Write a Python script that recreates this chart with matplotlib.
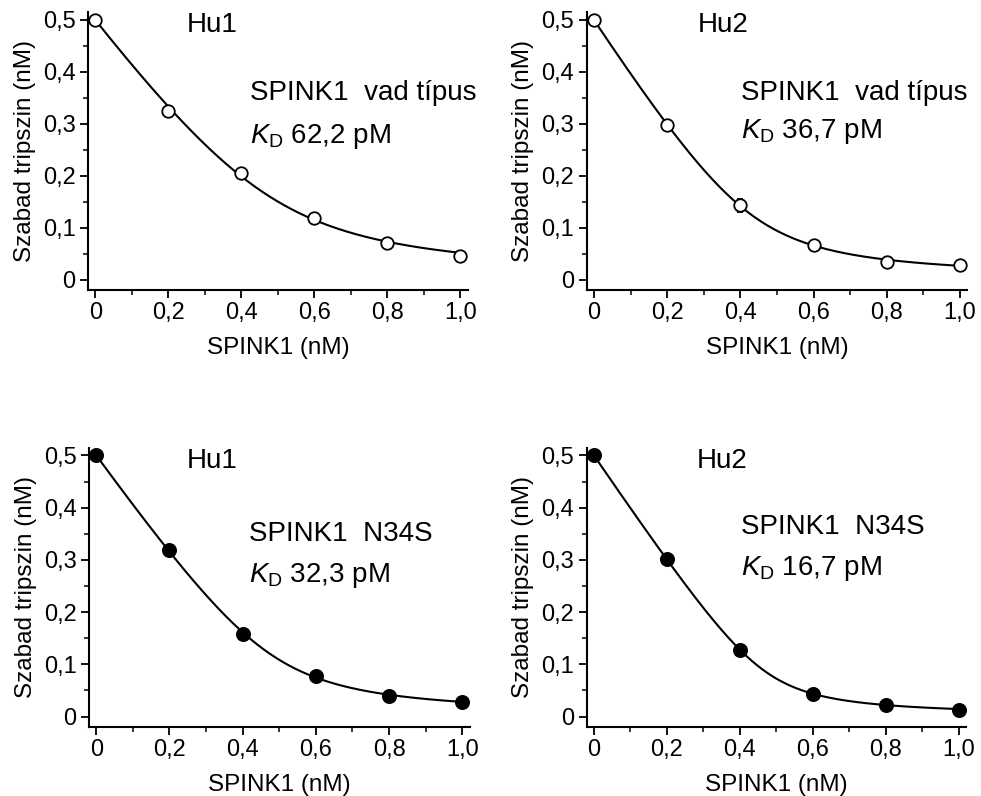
import numpy as np
import matplotlib
matplotlib.use("Agg")
import matplotlib.pyplot as plt
from matplotlib.ticker import MultipleLocator

plt.rcParams['font.family'] = ['Liberation Sans', 'DejaVu Sans']
plt.rcParams['mathtext.fontset'] = 'custom'
plt.rcParams['mathtext.rm'] = 'Liberation Sans'
plt.rcParams['mathtext.it'] = 'Liberation Sans:italic'

# data
spink1 = [0.0, 0.2, 0.4, 0.6, 0.8, 1.0]
hu1_wt = [0.500, 0.324, 0.205, 0.119, 0.071, 0.046]
hu1_wt_err = [0, 0, 0, 0, 0, 0]
hu2_wt = [0.500, 0.298, 0.143, 0.066, 0.034, 0.028]
hu2_wt_err = [0, 0.006, 0.012, 0, 0, 0]
hu1_n34s = [0.500, 0.318, 0.158, 0.078, 0.040, 0.028]
hu1_n34s_err = [0, 0.010, 0, 0, 0, 0]
hu2_n34s = [0.500, 0.302, 0.127, 0.043, 0.023, 0.013]
hu2_n34s_err = [0, 0, 0, 0, 0, 0]

kd_values = [0.0622, 0.0367, 0.0323, 0.0167]   # nM
kd_texts = ["62,2", "36,7", "32,3", "16,7"]
enzymes = ["Hu1", "Hu2", "Hu1", "Hu2"]
variants = ["SPINK1  vad típus", "SPINK1  vad típus", "SPINK1  N34S", "SPINK1  N34S"]

xticks = [0, 0.2, 0.4, 0.6, 0.8, 1.0]
xticklabels = ["0", "0,2", "0,4", "0,6", "0,8", "1,0"]
yticks = [0, 0.1, 0.2, 0.3, 0.4, 0.5]
yticklabels = ["0", "0,1", "0,2", "0,3", "0,4", "0,5"]


def morrison(i, e0, kd, a):
    s = e0 + a * i + kd
    return e0 - (s - np.sqrt(s * s - 4 * e0 * a * i)) / 2


def fit_curve(x, y, kd):
    # Morrison fit with fixed KD, active-inhibitor factor fitted
    x = np.array(x)
    y = np.array(y)
    best = None
    for a in np.linspace(0.8, 1.2, 401):
        err = np.sum((morrison(x, y[0], kd, a) - y) ** 2)
        if best is None or err < best[0]:
            best = (err, a)
    xs = np.linspace(0, 1, 300)
    return xs, morrison(xs, y[0], kd, best[1])


def main():
    fig = plt.figure(figsize=(9.81, 7.96), dpi=100)

    boxes = [
        [0.0897, 0.6357, 0.387, 0.349],
        [0.598, 0.6357, 0.388, 0.349],
        [0.0907, 0.0867, 0.388, 0.351],
        [0.598, 0.0867, 0.387, 0.351],
    ]
    series = [hu1_wt, hu2_wt, hu1_n34s, hu2_n34s]
    errors = [hu1_wt_err, hu2_wt_err, hu1_n34s_err, hu2_n34s_err]
    filled = [False, False, True, True]
    enz_x = [0.25, 0.283, 0.246, 0.283]
    var_x = [0.424, 0.403, 0.418, 0.402]
    var_y = [0.36, 0.36, 0.35, 0.363]
    kd_y = [0.275, 0.285, 0.27, 0.283]

    for k in range(4):
        ax = fig.add_axes(boxes[k])
        xs, ys = fit_curve(spink1, series[k], kd_values[k])
        ax.plot(xs, ys, color='black', lw=1.5, zorder=2)
        ax.errorbar(spink1, series[k], yerr=errors[k], fmt='none',
                    ecolor='black', elinewidth=1.3, capsize=2.5, capthick=1.3, zorder=3)
        ax.plot(spink1, series[k], 'o', ms=9.5 if filled[k] else 9,
                mfc='black' if filled[k] else 'white', mec='black', mew=1.3,
                zorder=4, clip_on=False)

        ax.set_xlim(-0.02, 1.02)
        ax.set_ylim(-0.02, 0.515)
        for side in ['top', 'right']:
            ax.spines[side].set_visible(False)
        for side in ['left', 'bottom']:
            ax.spines[side].set_linewidth(1.5)

        ax.set_xticks(xticks)
        ax.set_xticklabels(xticklabels)
        ax.set_yticks(yticks)
        ax.set_yticklabels(yticklabels)
        ax.xaxis.set_minor_locator(MultipleLocator(0.1))
        ax.yaxis.set_minor_locator(MultipleLocator(0.05))
        ax.tick_params(which='major', direction='out', length=6, width=1.3,
                       labelsize=17, pad=3)
        ax.tick_params(which='minor', direction='out', length=3.5, width=1.1)

        ax.set_xlabel("SPINK1 (nM)", fontsize=17.5, labelpad=9)
        ax.set_ylabel("Szabad tripszin (nM)", fontsize=17.5, labelpad=5)

        ax.text(enz_x[k], 0.49, enzymes[k], fontsize=20, va='center', ha='left')
        ax.text(var_x[k], var_y[k], variants[k], fontsize=20, va='center', ha='left')
        ax.text(var_x[k], kd_y[k], r"$\mathit{K}_{\mathrm{D}}$ " + kd_texts[k] + " pM",
                fontsize=20, va='center', ha='left')

    fig.savefig("out.png", dpi=100)


if __name__ == '__main__':
    main()
